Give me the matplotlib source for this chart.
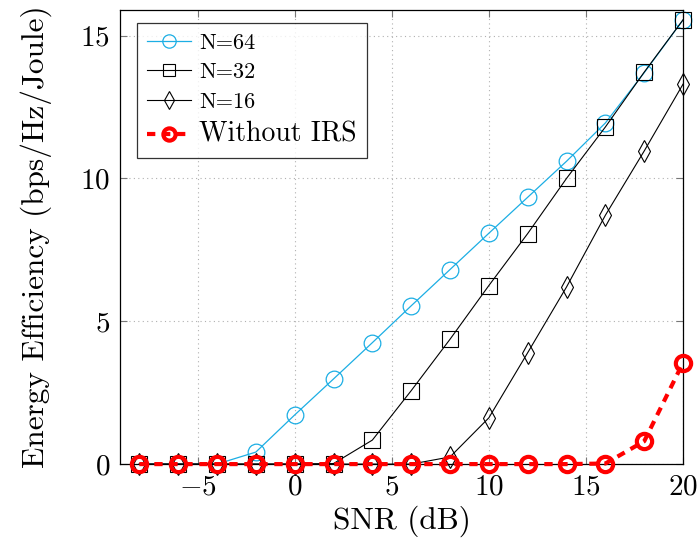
import matplotlib
matplotlib.use("Agg")
import matplotlib.pyplot as plt

# data
snr = [-8, -6, -4, -2, 0, 2, 4, 6, 8, 10, 12, 14, 16, 18, 20]
ee_n64 = [0, 0, 0, 0.42, 1.72, 2.98, 4.25, 5.54, 6.81, 8.08, 9.34, 10.6, 11.94, 13.7, 15.55]
ee_n32 = [0, 0, 0, 0, 0, 0.02, 0.84, 2.57, 4.37, 6.25, 8.07, 10.0, 11.8, 13.72, 15.55]
ee_n16 = [0, 0, 0, 0, 0, 0, 0, 0, 0.25, 1.62, 3.9, 6.2, 8.71, 10.96, 13.3]
ee_no_irs = [0, 0, 0, 0, 0, 0, 0, 0, 0, 0, 0, 0, 0.02, 0.8, 3.55]

plt.rcParams['font.family'] = ['cmr10', 'DejaVu Serif']
plt.rcParams['mathtext.fontset'] = 'cm'
plt.rcParams['axes.formatter.use_mathtext'] = True

fig = plt.figure(figsize=(6.97, 5.46), dpi=100)
ax = fig.add_axes([0.172, 0.150, 0.808, 0.832])

ax.plot(snr, ee_n64, color='#1CAEE4', lw=0.9, marker='o', ms=12,
        mfc='none', mec='#1CAEE4', mew=0.9, label='N=64', clip_on=False)
ax.plot(snr, ee_n32, color='black', lw=0.8, marker='s', ms=11.5,
        mfc='none', mec='black', mew=0.8, label='N=32', clip_on=False)
ax.plot(snr, ee_n16, color='black', lw=0.8, marker='d', ms=11,
        mfc='none', mec='black', mew=0.8, label='N=16', clip_on=False)
ax.plot(snr, ee_no_irs, color='red', lw=3, ls=(0, (2, 1.6)), marker='o', ms=11,
        mfc='none', mec='red', mew=3, label='Without IRS', clip_on=False, zorder=3)

ax.set_xlim(-9, 20)
ax.set_ylim(0, 15.9)
ax.set_xticks([-5, 0, 5, 10, 15, 20])
ax.set_yticks([0, 5, 10, 15])
ax.grid(True, ls=(0, (1, 3)), color='#b0b0b0', lw=0.8)
ax.tick_params(direction='in', length=5, color='#777777', labelsize=21,
               top=True, right=True, pad=7)
for s in ax.spines.values():
    s.set_linewidth(0.9)

ax.set_xlabel('SNR (dB)', fontsize=22.5, labelpad=4)
ax.set_ylabel('Energy Efficiency (bps/Hz/Joule)', fontsize=22.5, labelpad=20)

leg = ax.legend(loc='upper left', fontsize=16, handlelength=2.0, frameon=True,
                fancybox=False, edgecolor='black', borderpad=0.45,
                labelspacing=0.45, handletextpad=0.35, markerscale=0.8,
                borderaxespad=0, bbox_to_anchor=(0.03, 0.971))
leg.get_frame().set_linewidth(0.9)
leg.get_texts()[3].set_fontsize(20)

fig.savefig('out.png', dpi=100)
